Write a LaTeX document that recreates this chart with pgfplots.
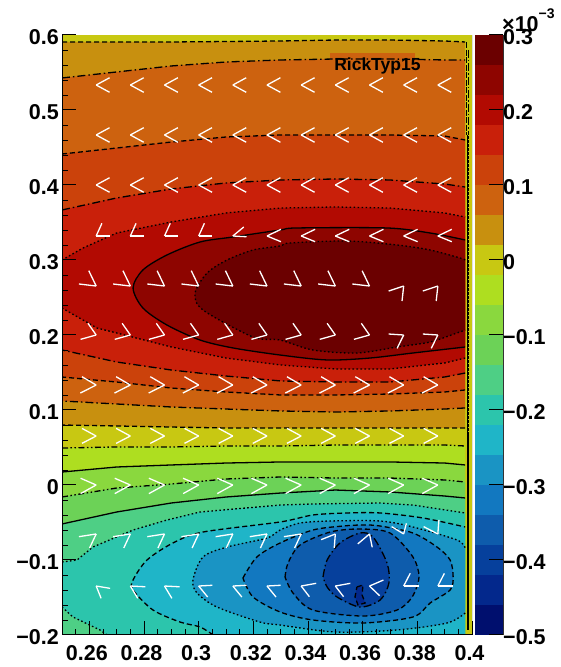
\documentclass[border=0pt]{standalone}
\usepackage{fontspec}
\setmainfont{Liberation Sans}
\usepackage{pgfplots}
\usepackage{pgfplotstable}
\pgfplotsset{compat=1.18}
\definecolor{k0}{HTML}{6B0000}\definecolor{k1}{HTML}{8E0500}\definecolor{k2}{HTML}{B20A02}\definecolor{k3}{HTML}{C9200A}
\definecolor{k4}{HTML}{CB420B}\definecolor{k5}{HTML}{CD620F}\definecolor{k6}{HTML}{C8900F}\definecolor{k7}{HTML}{C8C812}
\definecolor{k8}{HTML}{AEDE20}\definecolor{k9}{HTML}{8AD83E}\definecolor{k10}{HTML}{6CD257}\definecolor{k11}{HTML}{4ECF85}
\definecolor{k12}{HTML}{2CC5AC}\definecolor{k13}{HTML}{1FB5C8}\definecolor{k14}{HTML}{1A94C4}\definecolor{k15}{HTML}{1278C0}
\definecolor{k16}{HTML}{0E5CAC}\definecolor{k17}{HTML}{06409C}\definecolor{k18}{HTML}{03288C}\definecolor{k19}{HTML}{000F6E}
% contour lines (x, y) of the map, in axis units
\def\Taa{(0.25,0.5907)(0.27,0.5907)(0.29,0.5907)(0.31,0.5913)(0.33,0.592)(0.35,0.5933)(0.37,0.5933)(0.39,0.592)(0.3975,0.5907)}
\def\Baa{(0.3975,0.076)(0.39,0.076)(0.37,0.076)(0.35,0.076)(0.33,0.076)(0.31,0.076)(0.29,0.0773)(0.27,0.0787)(0.25,0.08)}
\def\Tab{(0.25,0.5427)(0.27,0.5507)(0.29,0.5587)(0.31,0.564)(0.33,0.5667)(0.35,0.568)(0.37,0.568)(0.39,0.5667)(0.3975,0.5667)}
\def\Bab{(0.3975,0.1027)(0.39,0.1013)(0.37,0.0987)(0.35,0.0973)(0.33,0.0987)(0.31,0.1013)(0.29,0.104)(0.27,0.108)(0.25,0.112)}
\def\Tac{(0.25,0.4413)(0.27,0.4493)(0.29,0.4573)(0.31,0.464)(0.33,0.4667)(0.35,0.4667)(0.37,0.4667)(0.39,0.4653)(0.3975,0.46)}
\def\Bac{(0.3975,0.1267)(0.39,0.124)(0.37,0.1213)(0.35,0.12)(0.33,0.12)(0.31,0.124)(0.29,0.1293)(0.27,0.1373)(0.25,0.144)}
\def\Tad{(0.25,0.3667)(0.27,0.3827)(0.29,0.3947)(0.31,0.4027)(0.33,0.4067)(0.35,0.408)(0.37,0.4067)(0.39,0.4013)(0.3975,0.3973)}
\def\Bad{(0.3975,0.1493)(0.39,0.144)(0.37,0.1373)(0.35,0.1373)(0.33,0.1387)(0.31,0.1453)(0.29,0.1533)(0.27,0.164)(0.25,0.18)}
\def\Tae{(0.25,0.3)(0.2577,0.316)(0.27,0.336)(0.29,0.3507)(0.31,0.3627)(0.33,0.3693)(0.35,0.3707)(0.37,0.3693)(0.39,0.3627)(0.3975,0.3573)}
\def\Bae{(0.3975,0.1693)(0.39,0.1627)(0.37,0.1547)(0.35,0.1547)(0.33,0.16)(0.31,0.1693)(0.29,0.184)(0.27,0.2027)(0.2628,0.2093)(0.25,0.236)}
\def\Laf{(0.3975,0.3267)(0.3847,0.336)(0.3689,0.3427)(0.336,0.3427)(0.3298,0.34)(0.3126,0.3307)(0.3005,0.324)(0.2884,0.3067)(0.2796,0.2867)(0.276,0.2627)(0.2796,0.236)(0.2884,0.2133)(0.3005,0.1933)(0.3126,0.1827)(0.3298,0.1733)(0.347,0.1667)(0.3627,0.1693)(0.3784,0.176)(0.3975,0.184)}
\def\Lag{(0.3975,0.3)(0.3956,0.3027)(0.3847,0.3133)(0.3726,0.32)(0.3543,0.3253)(0.3334,0.3227)(0.3298,0.3187)(0.3199,0.3133)(0.3104,0.3)(0.3031,0.2827)(0.2987,0.256)(0.3016,0.2333)(0.3199,0.1973)(0.3298,0.1933)(0.3418,0.18)(0.3579,0.176)(0.3726,0.184)(0.3847,0.1907)(0.3945,0.2027)(0.3975,0.2067)}
\def\Nba{(0.25,0.0493)(0.27,0.0507)(0.29,0.0507)(0.31,0.052)(0.33,0.052)(0.35,0.0533)(0.37,0.0533)(0.39,0.0533)(0.3975,0.052)}
\def\Nbb{(0.25,0.0173)(0.27,0.024)(0.29,0.0267)(0.31,0.0293)(0.33,0.0307)(0.35,0.0307)(0.37,0.0307)(0.39,0.0293)(0.3975,0.0267)}
\def\Nbc{(0.25,-0.016)(0.27,-0.004)(0.29,0.0013)(0.31,0.008)(0.33,0.0107)(0.35,0.0093)(0.37,0.0093)(0.39,0.0067)(0.3975,0.004)}
\def\Nbd{(0.25,-0.052)(0.27,-0.036)(0.29,-0.024)(0.31,-0.016)(0.33,-0.0107)(0.35,-0.0067)(0.37,-0.0093)(0.39,-0.0147)(0.3975,-0.0173)}
\def\Nbe{(0.25,-0.1027)(0.2555,-0.1)(0.2613,-0.0827)(0.276,-0.06)(0.2884,-0.0467)(0.3005,-0.036)(0.3298,-0.0267)(0.3418,-0.0253)(0.3664,-0.024)(0.3784,-0.0267)(0.3975,-0.0373)}
\def\Nbf{(0.2665,-0.2)(0.2639,-0.1933)(0.254,-0.176)(0.25,-0.1627)}
\def\Nbg{(0.3053,-0.2)(0.3005,-0.1893)(0.2932,-0.1827)(0.2833,-0.1667)(0.276,-0.14)(0.276,-0.1267)(0.2811,-0.1)(0.2906,-0.0773)(0.3016,-0.0627)(0.3298,-0.0493)(0.3418,-0.04)(0.3543,-0.0373)(0.3664,-0.0373)(0.3821,-0.044)(0.3975,-0.056)}
\def\Nbh{(0.3975,-0.1707)(0.3909,-0.184)(0.3726,-0.1933)(0.35,-0.196)(0.3298,-0.1867)(0.3224,-0.1827)(0.3067,-0.1627)(0.2994,-0.144)(0.2979,-0.1267)(0.3016,-0.096)(0.3104,-0.0827)(0.325,-0.0707)(0.3298,-0.06)(0.3371,-0.0507)(0.3481,-0.048)(0.3664,-0.048)(0.3784,-0.056)(0.3945,-0.0733)(0.3975,-0.084)}
\def\Nbi{(0.3162,-0.124)(0.3213,-0.096)(0.3298,-0.0773)(0.3418,-0.06)(0.3528,-0.0547)(0.3601,-0.0533)(0.3664,-0.0547)(0.3784,-0.064)(0.3872,-0.0827)(0.392,-0.1)(0.3931,-0.1227)(0.392,-0.14)(0.3847,-0.1573)(0.3784,-0.176)(0.3601,-0.184)(0.3418,-0.18)(0.3298,-0.1693)(0.3199,-0.1493)(0.3162,-0.124)}
\def\Nbj{(0.3316,-0.1227)(0.3327,-0.104)(0.3371,-0.08)(0.3481,-0.0627)(0.359,-0.0587)(0.37,-0.064)(0.3784,-0.096)(0.3806,-0.1227)(0.3781,-0.1493)(0.3726,-0.1667)(0.3601,-0.1747)(0.3418,-0.1667)(0.3345,-0.144)(0.3316,-0.1227)}
\def\Nbk{(0.3455,-0.1227)(0.347,-0.1)(0.3517,-0.0773)(0.359,-0.064)(0.3638,-0.0693)(0.3689,-0.104)(0.3696,-0.1307)(0.3664,-0.1533)(0.359,-0.1627)(0.3506,-0.1493)(0.347,-0.136)(0.3455,-0.1227)}
\def\Nbl{(0.3579,-0.136)(0.3601,-0.1333)(0.3598,-0.1467)(0.3609,-0.1573)(0.3583,-0.16)(0.3572,-0.1493)(0.3579,-0.136)}
\newcommand{\Fill}[3][]{\edef\tmp{\noexpand\addplot[fill=#2,draw=none,forget plot,#1] coordinates {#3} -- cycle;}\tmp}
\newcommand{\Line}[3][]{\edef\tmp{\noexpand\addplot[#2,line width=1.3pt,black,forget plot,#1] coordinates {#3};}\tmp}
\tikzset{cdash/.style={dash pattern=on 5pt off 3pt},
 cdd/.style={dash pattern=on 8pt off 3pt on 1.5pt off 3pt},
 cddd/.style={dash pattern=on 6pt off 2.5pt on 1.5pt off 2.5pt on 1.5pt off 2.5pt},
 cdot/.style={dash pattern=on 1.6pt off 2.4pt},
 csol/.style={solid},
 smo/.style={smooth,tension=0.5}}
% arrow heads of the field: tip (x,y) and the two barbs (ua,va), (ub,vb)
\pgfplotstableread[row sep=\\]{
x y ua va ub vb\\
0.2625 0.5333 0.0049 0.0097 0.0049 -0.0097\\ 0.275 0.5333 0.0049 0.0097 0.0049 -0.0097\\ 0.2875 0.5333 0.0049 0.0097 0.0049 -0.0097\\ 0.3 0.5333 0.0049 0.0097 0.0049 -0.0097\\ 0.3125 0.5333 0.0049 0.0097 0.0049 -0.0097\\ 0.325 0.5333 0.0049 0.0097 0.0049 -0.0097\\ 0.3375 0.5333 0.0049 0.0097 0.0049 -0.0097\\ 0.35 0.5333 0.0049 0.0097 0.0049 -0.0097\\ 0.3625 0.5333 0.0049 0.0097 0.0049 -0.0097\\ 0.375 0.5333 0.0049 0.0097 0.0049 -0.0097\\ 0.3875 0.5333 0.0049 0.0097 0.0049 -0.0097\\
0.2625 0.4667 0.0049 0.0097 0.0049 -0.0097\\ 0.275 0.4667 0.0049 0.0097 0.0049 -0.0097\\ 0.2875 0.4667 0.0049 0.0097 0.0049 -0.0097\\ 0.3 0.4667 0.0049 0.0097 0.0049 -0.0097\\ 0.3125 0.4667 0.0049 0.0097 0.0049 -0.0097\\ 0.325 0.4667 0.0049 0.0097 0.0049 -0.0097\\ 0.3375 0.4667 0.0049 0.0097 0.0049 -0.0097\\ 0.35 0.4667 0.0049 0.0097 0.0049 -0.0097\\ 0.3625 0.4667 0.0049 0.0097 0.0049 -0.0097\\ 0.375 0.4667 0.0049 0.0097 0.0049 -0.0097\\ 0.3875 0.4667 0.0049 0.0097 0.0049 -0.0097\\
0.2625 0.4 0.0049 0.0097 0.0049 -0.0097\\ 0.275 0.4 0.0049 0.0097 0.0049 -0.0097\\ 0.2875 0.4 0.0049 0.0097 0.0049 -0.0097\\ 0.3 0.4 0.0049 0.0097 0.0049 -0.0097\\ 0.3125 0.4 0.0049 0.0097 0.0049 -0.0097\\ 0.325 0.4 0.0049 0.0097 0.0049 -0.0097\\ 0.3375 0.4 0.0049 0.0097 0.0049 -0.0097\\ 0.35 0.4 0.0049 0.0097 0.0049 -0.0097\\ 0.3625 0.4 0.0049 0.0097 0.0049 -0.0097\\ 0.375 0.4 0.0049 0.0097 0.0049 -0.0097\\ 0.3875 0.4 0.0049 0.0097 0.0049 -0.0097\\
0.2625 0.332 0.0049 0 0.0021 0.0169\\ 0.275 0.332 0.0049 0 0.0021 0.0169\\ 0.2875 0.332 0.0049 0 0.0021 0.0169\\ 0.3 0.332 0.0049 0 0.0021 0.0169\\ 0.3125 0.332 0.005 -0.001 0.004 0.012\\ 0.325 0.332 0.0051 0.0089 0.0051 -0.0076\\ 0.3375 0.332 0.0051 0.0089 0.0051 -0.0076\\ 0.35 0.332 0.0051 0.0089 0.0051 -0.0076\\ 0.3625 0.332 0.0051 0.0089 0.0051 -0.0076\\ 0.375 0.332 0.0051 0.0089 0.0051 -0.0076\\ 0.3875 0.332 0.0051 0.0089 0.0051 -0.0076\\
0.2625 0.2653 -0.0063 0.0027 -0.0027 0.0204\\ 0.275 0.2653 -0.0063 0.0027 -0.0027 0.0204\\ 0.2875 0.2653 -0.0063 0.0027 -0.0027 0.0204\\ 0.3 0.2653 -0.0063 0.0027 -0.0027 0.0204\\ 0.3125 0.2653 -0.0063 0.0027 -0.0027 0.0204\\ 0.325 0.2653 -0.0063 0.0027 -0.0027 0.0204\\ 0.3375 0.2653 -0.0063 0.0027 -0.0027 0.0204\\ 0.35 0.2653 -0.0063 0.0027 -0.0027 0.0204\\ 0.3625 0.2653 -0.0063 0.0027 -0.0027 0.0204\\ 0.375 0.2653 -0.0055 -0.0067 -0.0006 -0.02\\ 0.3875 0.2653 -0.0055 -0.0067 -0.0006 -0.02\\
0.2625 0.2 -0.0057 -0.0058 -0.003 0.0156\\ 0.275 0.2 -0.0057 -0.0058 -0.003 0.0156\\ 0.2875 0.2 -0.0057 -0.0058 -0.003 0.0156\\ 0.3 0.2 -0.0057 -0.0058 -0.003 0.0156\\ 0.3125 0.2 -0.0057 -0.0058 -0.003 0.0156\\ 0.325 0.2 -0.0057 -0.0058 -0.003 0.0156\\ 0.3375 0.2 -0.0057 -0.0058 -0.003 0.0156\\ 0.35 0.2 -0.0057 -0.0058 -0.003 0.0156\\ 0.3625 0.2 -0.0057 -0.0058 -0.003 0.0156\\ 0.375 0.2 -0.0055 0.0013 -0.0024 -0.0178\\ 0.3875 0.2 -0.0055 0.0013 -0.0024 -0.0178\\
0.2625 0.1333 -0.0058 -0.0107 -0.0052 0.0111\\ 0.275 0.1333 -0.0058 -0.0107 -0.0052 0.0111\\ 0.2875 0.1333 -0.0058 -0.0107 -0.0052 0.0111\\ 0.3 0.1333 -0.0058 -0.0107 -0.0052 0.0111\\ 0.3125 0.1333 -0.0058 -0.0107 -0.0052 0.0111\\ 0.325 0.1333 -0.0058 -0.0107 -0.0052 0.0111\\ 0.3375 0.1333 -0.0058 -0.0107 -0.0052 0.0111\\ 0.35 0.1333 -0.0058 -0.0107 -0.0052 0.0111\\ 0.3625 0.1333 -0.0058 -0.0107 -0.0052 0.0111\\ 0.375 0.1333 -0.0058 -0.0107 -0.0052 0.0111\\ 0.3875 0.1333 -0.0058 -0.0107 -0.0052 0.0111\\
0.2625 0.0653 -0.0052 -0.0098 -0.0052 0.0102\\ 0.275 0.0653 -0.0052 -0.0098 -0.0052 0.0102\\ 0.2875 0.0653 -0.0052 -0.0098 -0.0052 0.0102\\ 0.3 0.0653 -0.0052 -0.0098 -0.0052 0.0102\\ 0.3125 0.0653 -0.0052 -0.0098 -0.0052 0.0102\\ 0.325 0.0653 -0.0052 -0.0098 -0.0052 0.0102\\ 0.3375 0.0653 -0.0052 -0.0098 -0.0052 0.0102\\ 0.35 0.0653 -0.0052 -0.0098 -0.0052 0.0102\\ 0.3625 0.0653 -0.0052 -0.0098 -0.0052 0.0102\\ 0.375 0.0653 -0.0052 -0.0098 -0.0052 0.0102\\ 0.3875 0.0653 -0.0052 -0.0098 -0.0052 0.0102\\
0.2625 0 -0.0057 0.009 -0.0057 -0.0115\\ 0.275 0 -0.0057 0.009 -0.0057 -0.0115\\ 0.2875 0 -0.0057 0.009 -0.0057 -0.0115\\ 0.3 0 -0.0057 0.009 -0.0057 -0.0115\\ 0.3125 0 -0.0057 0.009 -0.0057 -0.0115\\ 0.325 0 -0.0057 0.009 -0.0057 -0.0115\\ 0.3375 0 -0.0057 0.009 -0.0057 -0.0115\\ 0.35 0 -0.0057 0.009 -0.0057 -0.0115\\ 0.3625 0 -0.0057 0.009 -0.0057 -0.0115\\ 0.375 0 -0.0057 0.009 -0.0057 -0.0115\\ 0.3875 0 -0.0057 0.009 -0.0057 -0.0115\\
0.2625 -0.0653 -0.0063 -0.0036 -0.0024 -0.0187\\ 0.275 -0.0653 -0.0063 -0.0036 -0.0024 -0.0187\\ 0.2875 -0.0653 -0.0063 -0.0036 -0.0024 -0.0187\\ 0.3 -0.0653 -0.0063 -0.0036 -0.0024 -0.0187\\ 0.3125 -0.0653 -0.0063 -0.0036 -0.0024 -0.0187\\ 0.325 -0.0653 -0.0063 -0.0036 -0.0024 -0.0187\\ 0.3375 -0.0653 -0.0063 -0.0036 -0.0024 -0.0187\\ 0.35 -0.0653 -0.0052 -0.0076 -0.0004 -0.0187\\ 0.3625 -0.0653 -0.0043 -0.0133 0.001 -0.0178\\ 0.375 -0.0653 -0.0044 0.0098 0.001 0.0142\\ 0.3875 -0.0653 -0.0052 0.0098 0.0004 0.0187\\
0.2625 -0.1347 0.0051 -0.0031 0.0018 -0.0164\\ 0.275 -0.1347 0.0055 -0.001 0.0027 -0.0164\\ 0.2875 -0.1347 0.0055 -0.001 0.0027 -0.0164\\ 0.3 -0.1347 0.005 0.001 0.0033 -0.0147\\ 0.3125 -0.1347 0.005 0.001 0.0033 -0.0147\\ 0.325 -0.1347 0.005 0.001 0.0033 -0.0147\\ 0.3375 -0.1347 0.0055 0.0036 0.003 -0.0142\\ 0.35 -0.1347 0.0055 0.0036 0.003 -0.0142\\ 0.3625 -0.1347 0.0051 0.008 0.0037 -0.0129\\ 0.375 -0.1347 0.0055 0 0.0024 0.0169\\ 0.3875 -0.1347 0.0056 0 0.0024 0.0169\\
}\arrowheads
\newcommand{\lab}{\fontsize{21.5}{24}\selectfont\bfseries}
\begin{document}
\begin{tikzpicture}
\path[use as bounding box] (0,0) rectangle (561pt,667pt);
\begin{axis}[at={(62pt,32pt)},anchor=south west,scale only axis,width=410pt,height=600pt,
 xmin=0.25,xmax=0.4,ymin=-0.2,ymax=0.6,
 axis x line=bottom,axis y line=left,axis line style={-,line width=1pt,black},
 axis on top=true,tick align=inside,
 major tick length=14pt,minor tick length=5.5pt,
 every tick/.style={black,line width=1pt},
 every minor tick/.style={black,line width=0.9pt},
 xtick={0.26,0.28,0.3,0.32,0.34,0.36,0.38,0.4},
 xticklabels={0.26,0.28,0.3,0.32,0.34,0.36,0.38,0.4},
 minor xtick={0.255,0.265,0.27,0.275,0.285,0.29,0.295,0.305,0.31,0.315,0.325,0.33,0.335,0.345,0.35,0.355,0.365,0.37,0.375,0.385,0.39,0.395},
 ytick={-0.2,-0.1,0,0.1,0.2,0.3,0.4,0.5,0.6},
 yticklabels={−0.2,−0.1,0,0.1,0.2,0.3,0.4,0.5,0.6},
 minor ytick={-0.18,-0.16,-0.14,-0.12,-0.08,-0.06,-0.04,-0.02,0.02,0.04,0.06,0.08,0.12,0.14,0.16,0.18,0.22,0.24,0.26,0.28,0.32,0.34,0.36,0.38,0.42,0.44,0.46,0.48,0.52,0.54,0.56,0.58},
 xticklabel style={font=\lab,inner sep=0pt,yshift=-10.5pt,xshift=-2.5pt},
 yticklabel style={font=\lab,inner sep=0pt,xshift=-3pt,yshift=-2pt},
 clip=true]
% filled contour bands
\Fill{k7}{(0.25,-0.2)(0.4,-0.2)(0.4,0.6)(0.25,0.6)}
\Fill{k6}{\Taa\Baa}
\Fill{k5}{\Tab\Bab}
\Fill{k5}{(0.3481,0.5667)(0.3481,0.576)(0.3792,0.576)(0.3792,0.5667)}
\Fill{k4}{\Tac\Bac}
\Fill{k3}{\Tad\Bad}
\Fill{k2}{\Tae\Bae}
\Fill[smo]{k1}{\Laf}
\Fill[smo]{k0}{\Lag}
\Fill{k8}{\Nba(0.3975,-0.2)(0.25,-0.2)}
\Fill{k9}{\Nbb(0.3975,-0.2)(0.25,-0.2)}
\Fill{k10}{\Nbc(0.3975,-0.2)(0.25,-0.2)}
\Fill{k11}{\Nbd(0.3975,-0.2)(0.25,-0.2)}
\Fill{k12}{\Nbe(0.3975,-0.2)\Nbf}
\Fill[smo]{k13}{\Nbg}
\Fill{k13}{(0.3053,-0.2)(0.3975,-0.2)(0.3975,-0.056)}
\Fill[smo]{k14}{\Nbh}
\Fill[smo]{k15}{\Nbi}
\Fill[smo]{k16}{\Nbj}
\Fill[smo]{k17}{\Nbk}
\Fill{k18}{\Nbl}
% contour lines
\Line{cdash}{\Taa}\Line{cdash}{\Baa}
\Line{cdd}{\Tab}\Line{cdd}{\Bab}
\Line{cdash}{\Tac}\Line{cdash}{\Bac}
\Line{cdd}{\Tad}\Line{cdd}{\Bad}
\Line{cdot}{\Tae}\Line{cdot}{\Bae}
\Line[smo]{csol}{\Laf}
\Line[smo]{cdot}{\Lag}
\Line{cddd}{\Nba}
\Line{csol}{\Nbb}
\Line{cddd}{\Nbc}
\Line{csol}{\Nbd}
\Line{cdot}{\Nbe}\Line{cdot}{\Nbf}
\Line[smo]{cdash}{\Nbg}
\Line[smo]{cdot}{\Nbh}
\Line[smo]{cdash}{\Nbi}
\Line[smo]{cdash}{\Nbj}
\Line[smo]{cdd}{\Nbk}
\Line{cdash}{\Nbl}
% right-hand edge, where all contours pile up
\addplot[black,line width=2.6pt,forget plot] coordinates {(0.3986,0.4667)(0.3986,-0.193)};
\addplot[k7,line width=1pt,dash pattern=on 1.5pt off 2.5pt,forget plot] coordinates {(0.3986,0.4667)(0.3986,0.0667)};
\addplot[black,line width=0.9pt,dash pattern=on 6pt off 1.5pt,forget plot] coordinates {(0.398,0.59)(0.398,0.4667)};
\addplot[black,line width=0.9pt,dash pattern=on 8pt off 2pt on 1.5pt off 2pt,forget plot] coordinates {(0.3988,0.58)(0.3988,0.4667)};
\addplot[black,line width=1pt,forget plot] coordinates {(0.4,-0.2)(0.4,0.6)};
% field arrows
\addplot[white,line width=1.3pt,forget plot,quiver={u=\thisrow{ua},v=\thisrow{va}}] table[x=x,y=y] {\arrowheads};
\addplot[white,line width=1.3pt,forget plot,quiver={u=\thisrow{ub},v=\thisrow{vb}}] table[x=x,y=y] {\arrowheads};
\node[font=\fontsize{17.5}{20}\selectfont\bfseries,text=black] at (axis cs:0.3654,0.5593) {RickTyp15};
\end{axis}
\begin{axis}[at={(475pt,32pt)},anchor=south west,scale only axis,width=28pt,height=600pt,
 xmin=0,xmax=1,ymin=-0.5,ymax=0.3,
 axis x line=none,axis y line=right,axis line style={-,line width=0.8pt,black!80},
 axis on top=true,tick align=inside,major tick length=14pt,
 every tick/.style={black,line width=1pt},
 ytick={-0.5,-0.4,-0.3,-0.2,-0.1,0,0.1,0.2,0.3},
 yticklabels={−0.5,−0.4,−0.3,−0.2,−0.1,0,0.1,0.2,0.3},
 yticklabel style={font=\lab,inner sep=0pt,anchor=west,xshift=0pt,yshift=-2pt},
 minor tick num=0]
\addplot[fill=k0,draw=none] coordinates {(0,0.26)(1,0.26)(1,0.3)(0,0.3)} -- cycle;
\addplot[fill=k1,draw=none] coordinates {(0,0.22)(1,0.22)(1,0.26)(0,0.26)} -- cycle;
\addplot[fill=k2,draw=none] coordinates {(0,0.18)(1,0.18)(1,0.22)(0,0.22)} -- cycle;
\addplot[fill=k3,draw=none] coordinates {(0,0.14)(1,0.14)(1,0.18)(0,0.18)} -- cycle;
\addplot[fill=k4,draw=none] coordinates {(0,0.1)(1,0.1)(1,0.14)(0,0.14)} -- cycle;
\addplot[fill=k5,draw=none] coordinates {(0,0.06)(1,0.06)(1,0.1)(0,0.1)} -- cycle;
\addplot[fill=k6,draw=none] coordinates {(0,0.02)(1,0.02)(1,0.06)(0,0.06)} -- cycle;
\addplot[fill=k7,draw=none] coordinates {(0,-0.02)(1,-0.02)(1,0.02)(0,0.02)} -- cycle;
\addplot[fill=k8,draw=none] coordinates {(0,-0.06)(1,-0.06)(1,-0.02)(0,-0.02)} -- cycle;
\addplot[fill=k9,draw=none] coordinates {(0,-0.1)(1,-0.1)(1,-0.06)(0,-0.06)} -- cycle;
\addplot[fill=k10,draw=none] coordinates {(0,-0.14)(1,-0.14)(1,-0.1)(0,-0.1)} -- cycle;
\addplot[fill=k11,draw=none] coordinates {(0,-0.18)(1,-0.18)(1,-0.14)(0,-0.14)} -- cycle;
\addplot[fill=k12,draw=none] coordinates {(0,-0.22)(1,-0.22)(1,-0.18)(0,-0.18)} -- cycle;
\addplot[fill=k13,draw=none] coordinates {(0,-0.26)(1,-0.26)(1,-0.22)(0,-0.22)} -- cycle;
\addplot[fill=k14,draw=none] coordinates {(0,-0.3)(1,-0.3)(1,-0.26)(0,-0.26)} -- cycle;
\addplot[fill=k15,draw=none] coordinates {(0,-0.34)(1,-0.34)(1,-0.3)(0,-0.3)} -- cycle;
\addplot[fill=k16,draw=none] coordinates {(0,-0.38)(1,-0.38)(1,-0.34)(0,-0.34)} -- cycle;
\addplot[fill=k17,draw=none] coordinates {(0,-0.42)(1,-0.42)(1,-0.38)(0,-0.38)} -- cycle;
\addplot[fill=k18,draw=none] coordinates {(0,-0.46)(1,-0.46)(1,-0.42)(0,-0.42)} -- cycle;
\addplot[fill=k19,draw=none] coordinates {(0,-0.5)(1,-0.5)(1,-0.46)(0,-0.46)} -- cycle;
\end{axis}
\node[anchor=base west,inner sep=0pt] at (502pt,635pt) {\lab ×10\raisebox{13pt}{\fontsize{14}{14}\selectfont −3}};
\end{tikzpicture}
\end{document}
